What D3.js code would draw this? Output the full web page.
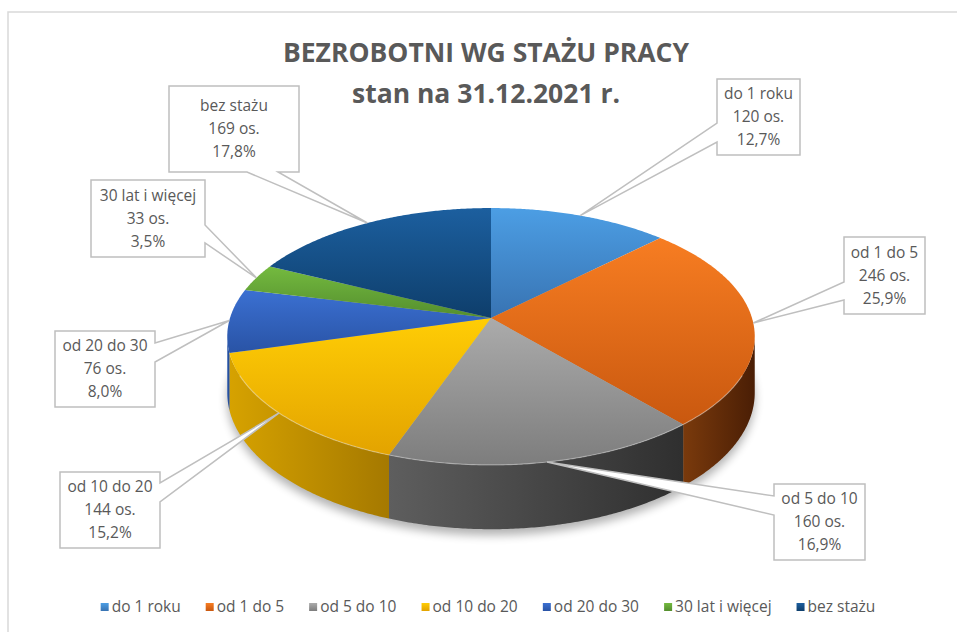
<!DOCTYPE html>
<html lang="pl">
<head>
<meta charset="UTF-8">
<title>Bezrobotni wg stażu pracy</title>
<style>
  html, body { padding:0; margin:0; background:#fff; }
  text { font-family: "Open Sans", "DejaVu Sans", sans-serif; }
</style>
</head>
<body>
<script src="https://cdn.jsdelivr.net/npm/d3@7"></script>
<script>
var categories = ['do 1 roku', 'od 1 do 5', 'od 5 do 10', 'od 10 do 20', 'od 20 do 30', '30 lat i więcej', 'bez stażu'];
var values = [120, 246, 160, 144, 76, 33, 169];
var titleLines = ['BEZROBOTNI WG STAŻU PRACY', 'stan na 31.12.2021 r.'];

// styling: top face light->dark, side left->right
var topColors  = [['#4c9ee4', '#3873b2'], ['#f77d22', '#c9580f'], ['#ababab', '#7d7d7d'],
                  ['#ffcd05', '#e3a300'], ['#3b70d2', '#2953a5'], ['#74ba3f', '#548e2e'], ['#1c5f9f', '#0e3e6b']];
var sideColors = [['#2e5f94', '#234a74'], ['#7a3a0c', '#4a1e05'], ['#5e5e5e', '#2f2f2f'],
                  ['#d6a200', '#a57900'], ['#2d5bb0', '#22478c'], ['#4f8a2a', '#3b6a1f'], ['#123f6b', '#0c2e50']];

// callout boxes [x0, y0, x1, y1, side, w1, w2]
var boxes = [
  [717, 79, 800, 155, 'left', 123, 142],
  [844, 237, 925, 314, 'left', 282, 300],
  [774, 484, 865, 560, 'left', 496, 515],
  [60, 472, 160, 548, 'right', 483, 502],
  [55, 331, 155, 407, 'right', 343, 362],
  [91, 180, 205, 257, 'right', 225, 243],
  [169, 86, 299, 172, 'bottom', 247, 278]
];

var width = 957, height = 632;
var cx = 491, cy = 318, rx = 261, ry = 125.8, persp = 0.144, thick = 55;
var total = d3.sum(values);

var svg = d3.select('body').append('svg')
    .attr('width', width)
    .attr('height', height);

var defs = svg.append('defs');

function grad(id, c, horiz) {
    var g = defs.append('linearGradient').attr('id', id)
        .attr('x1', 0).attr('y1', 0)
        .attr('x2', horiz ? 1 : 0).attr('y2', horiz ? 0 : 1);
    g.append('stop').attr('offset', '0%').attr('stop-color', c[0]);
    g.append('stop').attr('offset', '100%').attr('stop-color', c[1]);
}
topColors.forEach(function(c, i) { grad('top' + i, c, false); });
sideColors.forEach(function(c, i) { grad('side' + i, c, true); });

defs.append('filter').attr('id', 'blur')
    .attr('x', '-20%').attr('y', '-20%').attr('width', '140%').attr('height', '140%')
    .append('feGaussianBlur').attr('stdDeviation', 5);

// frame
svg.append('rect')
   .attr('x', 8).attr('y', 12)
   .attr('width', 1000).attr('height', 700)
   .attr('fill', 'none')
   .attr('stroke', '#d9d9d9')
   .attr('stroke-width', 1.5);

function proj(t) {
    var x = Math.sin(t), z = -Math.cos(t), d = 1 - persp * z;
    return [cx + rx * x / d, cy + ry * z / d, d];
}
function arcPts(t0, t1) {
    var n = Math.max(2, Math.ceil((t1 - t0) / (Math.PI / 360)));
    return d3.range(n + 1).map(function(i) { return proj(t0 + (t1 - t0) * i / n); });
}
var line = d3.line().x(function(p) { return p[0]; }).y(function(p) { return p[1]; });

var pie = d3.pie().sort(null).startAngle(0).endAngle(2 * Math.PI);
var arcs = pie(values);

// shadow under the pie
var bottomRim = arcPts(0, 2 * Math.PI).map(function(p) { return [p[0], p[1] + thick / p[2] + 6]; });
svg.append('path')
   .attr('d', line(bottomRim) + 'Z')
   .attr('fill', '#000')
   .attr('opacity', 0.3)
   .attr('filter', 'url(#blur)');

// side walls (front half only)
var lo = Math.acos(-persp), hi = 2 * Math.PI - lo;
svg.append('g').selectAll('path')
   .data(arcs.filter(function(d) { return d.endAngle > lo && d.startAngle < hi; }))
   .enter().append('path')
   .attr('d', function(d) {
       var top = arcPts(Math.max(lo, d.startAngle), Math.min(hi, d.endAngle));
       var bot = top.map(function(p) { return [p[0], p[1] + thick / p[2]]; }).reverse();
       return line(top.concat(bot)) + 'Z';
   })
   .attr('fill', function(d) { return 'url(#side' + d.index + ')'; });

// top faces
svg.append('g').selectAll('path')
   .data(arcs)
   .enter().append('path')
   .attr('d', function(d) {
       return line([[cx, cy]].concat(arcPts(d.startAngle, d.endAngle))) + 'Z';
   })
   .attr('fill', function(d) { return 'url(#top' + d.index + ')'; });

// light bevel on the front rim
svg.append('path')
   .attr('d', line(arcPts(lo + 0.3, hi - 0.3)))
   .attr('fill', 'none')
   .attr('stroke', '#fff')
   .attr('stroke-opacity', 0.35)
   .attr('stroke-width', 1.2);

// callouts
var fmt = function(v) { return (v / total * 100).toFixed(1).replace('.', ',') + '%'; };
var callouts = svg.append('g').selectAll('g')
   .data(arcs)
   .enter().append('g');

callouts.append('path')
   .attr('d', function(d) {
       var b = boxes[d.index];
       var tip = proj((d.startAngle + d.endAngle) / 2);
       var x0 = b[0], y0 = b[1], x1 = b[2], y1 = b[3];
       var p = d3.path();
       p.moveTo(x0, y0);
       if (b[4] === 'bottom') {
           p.lineTo(x1, y0); p.lineTo(x1, y1);
           p.lineTo(b[6], y1); p.lineTo(tip[0], tip[1]); p.lineTo(b[5], y1);
           p.lineTo(x0, y1);
       } else if (b[4] === 'left') {
           p.lineTo(x1, y0); p.lineTo(x1, y1); p.lineTo(x0, y1);
           p.lineTo(x0, b[6]); p.lineTo(tip[0], tip[1]); p.lineTo(x0, b[5]);
       } else {
           p.lineTo(x1, y0); p.lineTo(x1, b[5]); p.lineTo(tip[0], tip[1]);
           p.lineTo(x1, b[6]); p.lineTo(x1, y1); p.lineTo(x0, y1);
       }
       p.closePath();
       return p.toString();
   })
   .attr('fill', '#fff')
   .attr('stroke', '#bfbfbf')
   .attr('stroke-width', 1.5);

callouts.each(function(d) {
    var b = boxes[d.index];
    var mx = (b[0] + b[2]) / 2, my = (b[1] + b[3]) / 2;
    var lines = [categories[d.index], d.data + ' os.', fmt(d.data)];
    d3.select(this).selectAll('text')
      .data(lines)
      .enter().append('text')
      .attr('x', mx)
      .attr('y', function(t, i) { return my + (i - 1) * 23 + 5; })
      .attr('text-anchor', 'middle')
      .attr('font-size', 15.5)
      .attr('fill', '#595959')
      .text(function(t) { return t; });
});

// title
svg.selectAll('text.title')
   .data(titleLines)
   .enter().append('text')
   .attr('class', 'title')
   .attr('x', 486)
   .attr('y', function(t, i) { return 62 + i * 41; })
   .attr('text-anchor', 'middle')
   .attr('font-size', 26.5)
   .attr('font-weight', 'bold')
   .attr('fill', '#595959')
   .text(function(t) { return t; });

// legend
var legend = svg.append('g');
var items = legend.selectAll('g')
   .data(categories)
   .enter().append('g');
items.append('rect')
   .attr('width', 8).attr('height', 8)
   .attr('y', 603)
   .attr('fill', function(c, i) { return 'url(#top' + i + ')'; });
items.append('text')
   .attr('x', 11)
   .attr('y', 612)
   .attr('font-size', 15.5)
   .attr('fill', '#595959')
   .text(function(c) { return c; });
var lx = 0;
items.each(function() {
    var w = this.getBBox().width;
    d3.select(this).attr('transform', 'translate(' + lx + ',0)');
    lx += w + 25;
});
var lw = lx - 25;
legend.attr('transform', 'translate(' + (488 - lw / 2) + ',0)');
</script>
</body>
</html>
